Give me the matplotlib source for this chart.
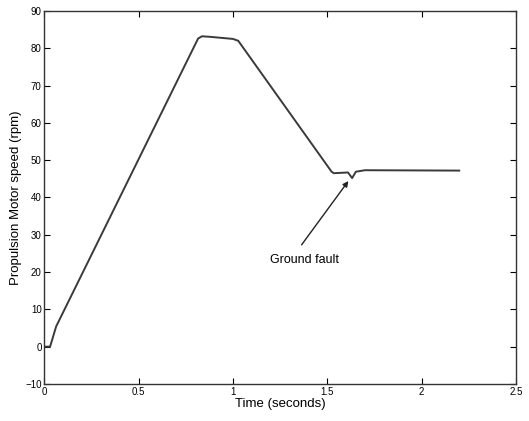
import matplotlib
matplotlib.use("Agg")
import matplotlib.pyplot as plt

# motor speed trace, read point by point
time_s = [0.0, 0.03, 0.062, 0.815, 0.835, 0.87, 1.0, 1.028,
          1.523, 1.535, 1.61, 1.632, 1.652, 1.70, 2.20]
speed_rpm = [0.0, 0.0, 5.4, 82.6, 83.2, 83.1, 82.5, 82.0,
             46.9, 46.5, 46.7, 45.2, 46.9, 47.3, 47.2]

fault_tip = (1.612, 44.4)
fault_tail = (1.364, 27.3)
fault_text = "Ground fault"

x_ticks = [0, 0.5, 1, 1.5, 2, 2.5]
x_tick_labels = ["0", "0.5", "1", "1.5", "2", "2.5"]
y_ticks = list(range(-10, 100, 10))

plt.rcParams["font.family"] = ["Liberation Sans", "DejaVu Sans"]

fig = plt.figure(figsize=(5.29, 4.21), dpi=100)
ax = fig.add_axes([0.084, 0.088, 0.891, 0.886])

ax.plot(time_s, speed_rpm, color="#3a3a3a", lw=1.4)

ax.annotate("", xy=fault_tip, xytext=fault_tail,
            arrowprops=dict(arrowstyle="-|>", color="#222222", lw=1.0,
                            mutation_scale=8, shrinkA=0, shrinkB=0))
ax.text(1.382, 23.2, fault_text, ha="center", va="center", fontsize=9)

ax.set_xlim(0, 2.5)
ax.set_ylim(-10, 90)
ax.set_xticks(x_ticks)
ax.set_xticklabels(x_tick_labels)
ax.set_yticks(y_ticks)
ax.tick_params(direction="in", top=True, right=True, length=4,
               width=0.8, labelsize=7, pad=2)
for sp in ax.spines.values():
    sp.set_linewidth(1.0)
    sp.set_color("#333333")

ax.set_xlabel("Time (seconds)", fontsize=9.5, labelpad=1)
ax.set_ylabel("Propulsion Motor speed (rpm)", fontsize=9.5, labelpad=2)

fig.savefig("out.png", dpi=100)
